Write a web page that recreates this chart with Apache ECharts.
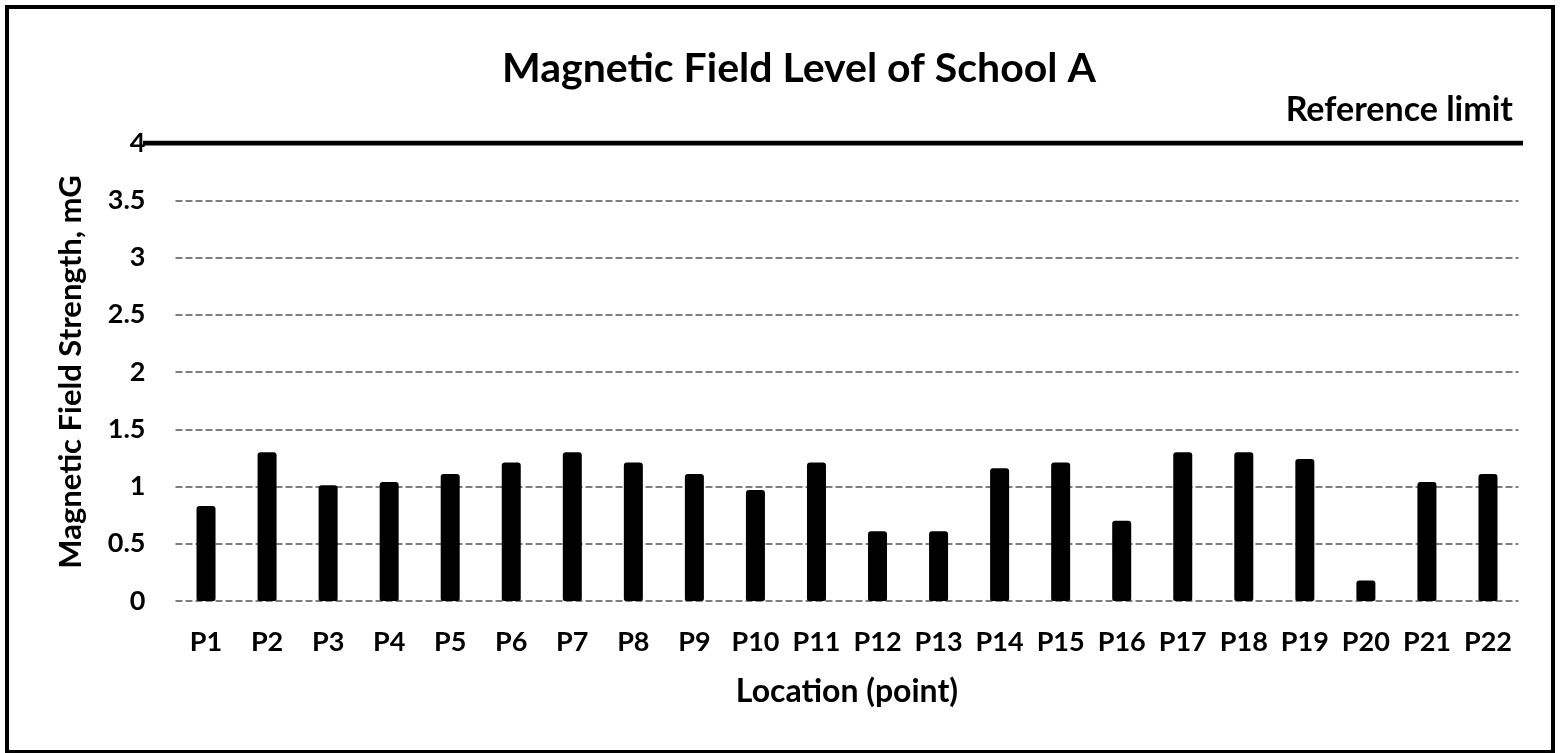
<!DOCTYPE html>
<html>
<head>
<meta charset="utf-8">
<script src="https://cdn.jsdelivr.net/npm/echarts@6/dist/echarts.min.js"></script>
<style>
html,body{margin:0;padding:0;background:#fff;}
#main{width:1565px;height:753px;}
</style>
</head>
<body>
<div id="main"></div>
<script>
const categories = ['P1','P2','P3','P4','P5','P6','P7','P8','P9','P10','P11','P12','P13','P14','P15','P16','P17','P18','P19','P20','P21','P22'];
const fieldValues = [0.83,1.30,1.01,1.04,1.11,1.21,1.30,1.21,1.11,0.97,1.21,0.61,0.61,1.16,1.21,0.70,1.30,1.30,1.24,0.18,1.04,1.11];
const referenceLimit = 4;
const yTicks = [0,0.5,1,1.5,2,2.5,3,3.5,4];

const FONT = 'Lato, "Open Sans", sans-serif';
const chart = echarts.init(document.getElementById('main'), null, {renderer:'canvas'});
const yMin = yTicks[0], yMax = yTicks[yTicks.length-1], yStep = yTicks[1]-yTicks[0];

chart.setOption({
  backgroundColor:'#fff',
  animation:false,
  title:[
    {text:'Magnetic Field Level of School A', left:497, top:43,
     textStyle:{fontFamily:FONT, fontSize:41, fontWeight:'bold', color:'#000'}},
    {text:'Reference limit', right:47, top:88,
     textStyle:{fontFamily:FONT, fontSize:34, fontWeight:'bold', color:'#000'}}
  ],
  graphic:[
    {type:'rect', shape:{x:7, y:7, width:1546, height:745}, style:{fill:'none', stroke:'#000', lineWidth:4}, z:-1}
  ],
  grid:[
    {left:175.5, right:46.5, top:143, bottom:152},
    {left:143, right:42, top:143, bottom:152}
  ],
  xAxis:[
    {type:'category', gridIndex:0, data:categories,
     axisLine:{show:false}, axisTick:{show:false},
     axisLabel:{fontFamily:FONT, fontSize:27, fontWeight:'bold', color:'#000', margin:28, interval:0},
     name:'Location (point)', nameLocation:'middle', nameGap:75,
     nameTextStyle:{fontFamily:FONT, fontSize:32, fontWeight:'bold', color:'#000'}},
    {type:'value', gridIndex:1, min:0, max:1, show:false}
  ],
  yAxis:[
    {type:'value', gridIndex:0, min:yMin, max:yMax, interval:yStep,
     axisLine:{show:false}, axisTick:{show:false},
     axisLabel:{fontFamily:FONT, fontSize:27, fontWeight:'bold', color:'#000', margin:30},
     splitLine:{show:true, lineStyle:{color:'#555', type:[7,3], width:1.5}},
     name:'Magnetic Field Strength, mG', nameLocation:'middle', nameGap:89,
     nameTextStyle:{fontFamily:FONT, fontSize:31, fontWeight:'bold', color:'#000'}},
    {type:'value', gridIndex:1, min:yMin, max:yMax, show:false}
  ],
  series:[
    {type:'bar', xAxisIndex:0, yAxisIndex:0, data:fieldValues, barWidth:19,
     itemStyle:{color:'#000', borderRadius:[3,3,2,2]}},
    {type:'line', xAxisIndex:1, yAxisIndex:1, data:[[0,referenceLimit],[1,referenceLimit]],
     symbol:'none', lineStyle:{color:'#000', width:5}, z:5}
  ]
});
</script>
</body>
</html>
